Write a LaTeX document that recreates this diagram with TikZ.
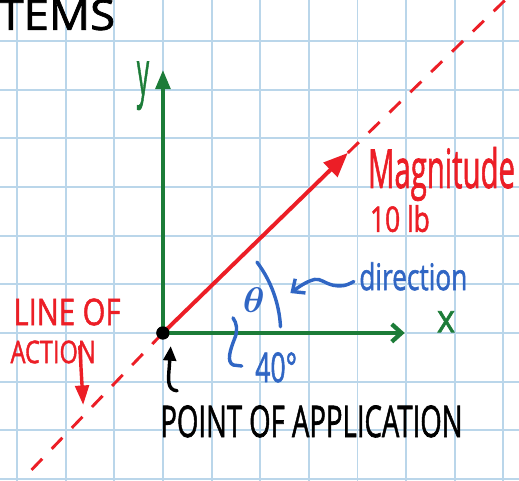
\documentclass[tikz,border=0pt]{standalone}
\usepackage{amsmath}
\usepackage{graphicx}
\usepackage{fontspec}
\setmainfont{Open Sans}
\newfontfamily\penfont{Open Sans}[FakeBold=1.6]
\usetikzlibrary{arrows.meta,positioning}
\definecolor{gridblue}{RGB}{186,214,234}
\definecolor{penred}{RGB}{236,30,38}
\definecolor{pengreen}{RGB}{28,124,56}
\definecolor{penblue}{RGB}{48,102,196}
\newcommand{\hand}[3]{\resizebox*{#1}{#2}{#3}}
\tikzset{
  gridline/.style={draw=gridblue, line width=1.1pt},
  axis/.style={draw=pengreen, line width=2.5pt, line cap=round},
  force/.style={draw=penred, line width=2.3pt, line cap=round},
  loa/.style={draw=penred, line width=1.7pt, dash pattern=on 9pt off 8pt},
  note/.style={line width=2pt, line cap=round},
  hand/.style={inner sep=0pt, anchor=base west, font=\penfont},
}

\begin{document}
\begin{tikzpicture}
  \useasboundingbox (-3.35,-3.04) rectangle (7.32,6.845);
  \clip (-3.35,-3.04) rectangle (7.32,6.845);
  \fill[white] (-3.35,-3.04) rectangle (7.32,6.845);
  % grid paper
  \foreach \x in {-3,...,7} \draw[gridline] (\x,-3.1) -- (\x,6.9);
  \foreach \y in {-3,...,6} \draw[gridline] (-3.4,\y) -- (7.4,\y);

  \node[hand] (title) at (-3.39,6.23) {\hand{2.40cm}{0.64cm}{TEMS}};

  % point of application and ends
  \node[circle, fill=black, inner sep=0pt, minimum size=2.7mm] (o) at (0,0) {};
  \coordinate (yend) at (0,5.41);
  \coordinate (xend) at (4.97,0);
  \coordinate (ftip) at (3.80,3.70);
  \coordinate (loalow) at (-2.84,-2.96);
  \coordinate (loahigh) at (7.30,7.10);

  % line of action
  \draw[loa] (o.center) -- (loalow);
  \draw[loa] (ftip) -- (loahigh);

  % axes
  \draw[axis, -{Triangle[length=4mm,width=3mm]}] (o.center) -- (yend);
  \draw[axis, -{Straight Barb[length=2mm,width=3.6mm]}] (o.center) -- (xend);
  \node[pengreen, inner sep=0pt, font=\penfont] (ylab) at (-0.41,5.08) {\hand{0.25cm}{0.99cm}{y}};
  \node[pengreen, inner sep=0pt, font=\penfont] (xlab) at (5.82,0.23) {\hand{0.37cm}{0.43cm}{x}};

  % the force
  \draw[force, -{Triangle[length=5mm,width=4mm]}] (o.center) -- (ftip);
  \node[circle, fill=black, inner sep=0pt, minimum size=2.7mm] at (o) {};

  \node[hand, penred] (mag) at (4.21,2.98) {\hand{3.02cm}{1.11cm}{Magnitude}};
  \node[hand, penred] (lbs) at (4.25,2.08) {\hand{1.23cm}{0.555cm}{10 lb}};

  % angle
  \draw[note, penblue] (o.center) ++(3:2.42) arc[start angle=3, end angle=37, radius=2.42];
  \node[penblue, inner sep=0pt] (th) at (1.87,0.68) {\hand{0.45cm}{0.51cm}{$\boldsymbol{\theta}$}};
  \node[hand, penblue] (dir) at (4.03,0.88) {\hand{2.22cm}{0.58cm}{direction}};
  \coordinate (arcpt) at (2.62,0.82);
  \draw[note, penblue, -{Straight Barb[length=2mm,width=3.6mm]}] ([xshift=-3pt,yshift=-3pt]dir.west)
    .. controls (3.75,0.96) and (3.65,0.95) .. (3.5,0.98)
    .. controls (3.3,1.03) and (3.25,1.12) .. (3.12,1.10)
    .. controls (2.95,1.06) and (2.8,0.95) .. (arcpt);
  \draw[note, penblue] (1.44,0.31) .. controls (1.52,0.2) and (1.54,0.05) .. (1.48,-0.1)
    .. controls (1.38,-0.35) and (1.30,-0.6) .. (1.45,-0.66) -- (1.62,-0.68);
  \node[hand, penblue] (deg) at (1.89,-1.01) {\hand{0.86cm}{0.62cm}{40°}};

  % labels below
  \node[hand] (poa) at (-0.06,-2.14) {\hand{6.21cm}{0.66cm}{POINT OF APPLICATION}};
  \coordinate (ptail) at (0.29,-1.19);
  \coordinate (ptip) at (0.16,-0.27);
  \draw[note, -{Triangle[length=3mm,width=2.6mm]}] (ptail)
    .. controls (0.08,-1.17) and (0.11,-0.95) .. (0.13,-0.7) -- (ptip);

  \node[hand, penred] (loa1) at (-3.08,0.16) {\hand{2.2cm}{0.555cm}{LINE OF}};
  \node[hand, penred] (loa2) at (-3.14,-0.62) {\hand{1.75cm}{0.47cm}{ACTION}};
  \coordinate (loatail) at (-1.71,-0.28);
  \coordinate (loatip) at (-1.64,-1.48);
  \draw[note, penred, -{Triangle[length=4mm,width=2.8mm]}] (loatail) -- (loatip);
\end{tikzpicture}
\end{document}
